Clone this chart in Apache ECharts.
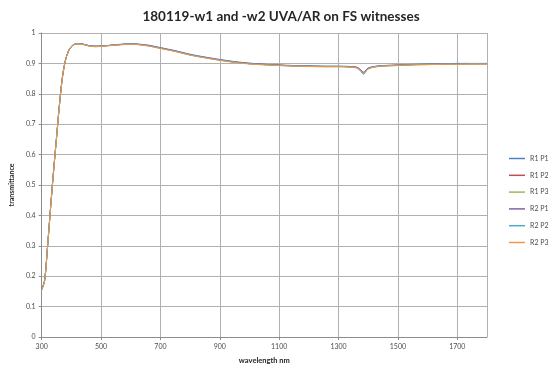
<!DOCTYPE html>
<html>
<head>
<meta charset="utf-8">
<script src="https://cdn.jsdelivr.net/npm/echarts@6/dist/echarts.min.js"></script>
<style>
  html, body { margin: 0; padding: 0; background: #fff; }
  #chart { width: 548px; height: 370px; }
</style>
</head>
<body>
<div id="chart"></div>
<script>
// wavelength (nm) sample points
const wavelength = [300, 310, 320, 330, 340, 350, 360, 370, 380, 390, 400, 410, 420, 440, 460, 480, 500, 540, 580, 600,
  620, 660, 700, 750, 800, 850, 900, 950, 1000, 1050, 1100, 1150, 1200, 1250, 1300, 1340, 1360, 1370, 1380, 1385,
  1390, 1400, 1420, 1450, 1500, 1550, 1600, 1650, 1700, 1750, 1800];

const r1p1 = [0.157, 0.188, 0.302, 0.428, 0.548, 0.657, 0.767, 0.857, 0.911, 0.941, 0.956, 0.963, 0.965, 0.963, 0.958, 0.957, 0.957, 0.961, 0.964, 0.965,
  0.964, 0.960, 0.952, 0.942, 0.930, 0.921, 0.913, 0.906, 0.901, 0.897, 0.895, 0.893, 0.892, 0.891, 0.891, 0.890, 0.888, 0.883, 0.874, 0.871,
  0.876, 0.885, 0.890, 0.893, 0.895, 0.897, 0.898, 0.899, 0.900, 0.900, 0.900];
const r1p2 = [0.155, 0.186, 0.300, 0.425, 0.545, 0.655, 0.765, 0.855, 0.910, 0.940, 0.955, 0.962, 0.965, 0.963, 0.958, 0.956, 0.957, 0.960, 0.963, 0.964,
  0.963, 0.958, 0.950, 0.940, 0.928, 0.919, 0.911, 0.904, 0.899, 0.896, 0.894, 0.892, 0.891, 0.890, 0.890, 0.889, 0.887, 0.882, 0.872, 0.869,
  0.874, 0.883, 0.889, 0.892, 0.894, 0.896, 0.897, 0.898, 0.898, 0.899, 0.899];
const r1p3 = [0.154, 0.185, 0.298, 0.423, 0.543, 0.653, 0.763, 0.853, 0.909, 0.939, 0.955, 0.962, 0.964, 0.962, 0.957, 0.955, 0.956, 0.960, 0.963, 0.964,
  0.963, 0.958, 0.950, 0.940, 0.928, 0.919, 0.911, 0.904, 0.899, 0.896, 0.893, 0.891, 0.890, 0.889, 0.889, 0.888, 0.886, 0.881, 0.871, 0.868,
  0.873, 0.882, 0.888, 0.891, 0.893, 0.895, 0.896, 0.897, 0.898, 0.898, 0.898];
const r2p1 = [0.156, 0.187, 0.301, 0.426, 0.546, 0.656, 0.766, 0.856, 0.910, 0.940, 0.956, 0.963, 0.965, 0.963, 0.958, 0.956, 0.957, 0.960, 0.963, 0.964,
  0.963, 0.959, 0.951, 0.941, 0.929, 0.920, 0.912, 0.905, 0.900, 0.897, 0.894, 0.892, 0.891, 0.890, 0.890, 0.889, 0.887, 0.882, 0.872, 0.869,
  0.874, 0.884, 0.889, 0.892, 0.894, 0.896, 0.897, 0.898, 0.899, 0.899, 0.899];
const r2p2 = [0.155, 0.186, 0.299, 0.424, 0.544, 0.654, 0.764, 0.854, 0.910, 0.940, 0.955, 0.962, 0.965, 0.963, 0.958, 0.956, 0.957, 0.960, 0.963, 0.964,
  0.963, 0.958, 0.950, 0.940, 0.928, 0.919, 0.911, 0.904, 0.899, 0.896, 0.894, 0.892, 0.891, 0.890, 0.890, 0.888, 0.885, 0.879, 0.867, 0.864,
  0.870, 0.882, 0.889, 0.892, 0.894, 0.896, 0.897, 0.898, 0.898, 0.899, 0.899];
const r2p3 = [0.154, 0.185, 0.299, 0.424, 0.544, 0.654, 0.764, 0.854, 0.909, 0.939, 0.955, 0.962, 0.964, 0.962, 0.957, 0.955, 0.956, 0.959, 0.962, 0.963,
  0.962, 0.957, 0.949, 0.939, 0.927, 0.918, 0.910, 0.903, 0.898, 0.895, 0.893, 0.891, 0.890, 0.889, 0.889, 0.888, 0.886, 0.881, 0.871, 0.868,
  0.873, 0.882, 0.888, 0.891, 0.893, 0.895, 0.896, 0.897, 0.897, 0.898, 0.898];

const seriesNames = ['R1 P1', 'R1 P2', 'R1 P3', 'R2 P1', 'R2 P2', 'R2 P3'];
const seriesValues = [r1p1, r1p2, r1p3, r2p1, r2p2, r2p3];
const seriesColors = ['#4f81bd', '#c0504d', '#9bbb59', '#8064a2', '#4bacc6', '#f79646'];

const xStart = 300;   // first labelled wavelength
const xEnd = 1800;
const xStep = 200;

const font = 'Lato, "Open Sans", sans-serif';
const gridColor = '#b0b0b0';
const labelColor = '#4d4d4d';

function pairs(values) {
  return wavelength.map((w, i) => [w, values[i]]);
}

const chart = echarts.init(document.getElementById('chart'), null, { renderer: 'canvas' });

const option = {
  animation: false,
  backgroundColor: '#fff',
  title: {
    text: '180119-w1 and -w2 UVA/AR on FS witnesses',
    left: 276,
    textAlign: 'center',
    top: 5,
    textStyle: { fontFamily: font, fontSize: 13.5, fontWeight: 'bold', color: '#262626' }
  },
  legend: {
    orient: 'vertical',
    left: 509,
    top: 155,
    padding: 0,
    itemGap: 9.8,
    itemWidth: 16,
    itemHeight: 1.5,
    icon: 'rect',
    textStyle: { fontFamily: font, fontSize: 7, color: labelColor, width: 24, overflow: 'none' },
    data: seriesNames
  },
  grid: { left: 37, right: 61, top: 33, bottom: 31, containLabel: false },
  xAxis: [
    {
      // data axis: carries the real wavelengths
      type: 'value',
      min: xStart,
      max: xEnd,
      show: false
    },
    {
      // display axis: labels and grid every 200 nm starting at 300
      type: 'value',
      min: 0,
      max: xEnd - xStart,
      interval: xStep,
      position: 'bottom',
      name: 'wavelength nm',
      nameLocation: 'middle',
      nameGap: 20,
      nameTextStyle: { fontFamily: font, fontSize: 7.5, fontWeight: 'bold', color: '#262626' },
      axisLine: { lineStyle: { color: '#8c8c8c', width: 1 } },
      axisTick: { show: true, length: 3, lineStyle: { color: '#8c8c8c' } },
      axisLabel: {
        fontFamily: font, fontSize: 7, color: labelColor, margin: 6,
        showMaxLabel: false,
        formatter: (v) => (v % xStep === 0 ? String(v + xStart) : '')
      },
      splitLine: { show: true, lineStyle: { color: gridColor, width: 1 } }
    }
  ],
  yAxis: {
    type: 'value',
    min: 0,
    max: 1,
    interval: 0.1,
    name: 'transmittance',
    nameLocation: 'middle',
    nameGap: 24,
    nameTextStyle: { fontFamily: font, fontSize: 7, fontWeight: 'bold', color: '#262626' },
    axisLine: { show: true, lineStyle: { color: '#8c8c8c', width: 1 } },
    axisTick: { show: true, length: 3, lineStyle: { color: '#8c8c8c' } },
    axisLabel: { fontFamily: font, fontSize: 7, color: labelColor, margin: 6 },
    splitLine: { show: true, lineStyle: { color: gridColor, width: 1 } }
  },
  series: seriesNames.map((name, i) => ({
    name: name,
    type: 'line',
    xAxisIndex: 0,
    data: pairs(seriesValues[i]),
    smooth: 0.3,
    symbol: 'none',
    lineStyle: { width: 1, color: seriesColors[i] },
    itemStyle: { color: seriesColors[i] }
  }))
};

chart.setOption(option);
</script>
</body>
</html>
